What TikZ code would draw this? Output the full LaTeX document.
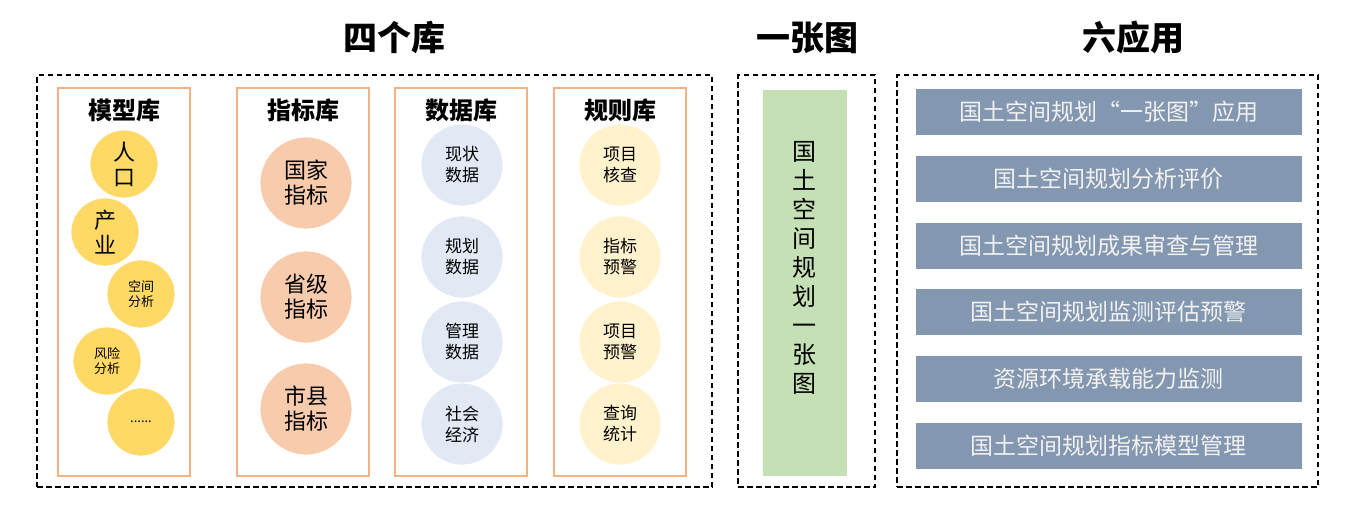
\documentclass[tikz,border=0pt]{standalone}
\usepackage{fontspec}
\setmainfont{Noto Sans CJK SC}
\usepackage{xcolor}
\usetikzlibrary{positioning}

\definecolor{chengbian}{HTML}{F4B183}
\definecolor{moxing}{HTML}{FFD966}
\definecolor{zhibiao}{HTML}{F8CBAD}
\definecolor{shuju}{HTML}{E2E9F5}
\definecolor{guize}{HTML}{FFF2CC}
\definecolor{yizhang}{HTML}{C5E0B4}
\definecolor{yingyong}{HTML}{8497B0}

\begin{document}
\begin{tikzpicture}[x=1pt, y=-1pt,
    xukuang/.style={draw=black, line width=1.3pt, dash pattern=on 5.5pt off 3.5pt,
                    minimum height=412pt, inner sep=0pt},
    kukuang/.style={draw=chengbian, line width=1.5pt, minimum width=132pt,
                    minimum height=388pt, inner sep=0pt},
    dabiaoti/.style={font=\fontsize{34}{38}\selectfont\bfseries},
    xiaobiaoti/.style={font=\fontsize{24}{28}\selectfont\bfseries},
    yuan/.style={circle, draw=white, line width=0.8pt, inner sep=0pt, align=center},
    tiao/.style={fill=yingyong, draw=white, line width=0.6pt, minimum width=387pt,
                 minimum height=47pt, text=white!95!black,
                 font=\fontsize{23}{26}\selectfont}]
                \useasboundingbox (0,0) rectangle (1351,515);

                % 1. 标题
                \node[dabiaoti] (sgk) at (394,38) {四个库};
                \node[dabiaoti] (yzt) at (807,38) {一张图};
                \node[dabiaoti] (lyy) at (1133,38) {六应用};

                % 2. 虚线框
                \node[xukuang, minimum width=675pt] (kuqu) at (374.5,281) {};
                \node[xukuang, minimum width=137pt] (tuqu) at (806.5,281) {};
                \node[xukuang, minimum width=421pt] (yongqu) at (1107.5,281) {};

                % 3. 四个库
                \foreach \n/\x/\t in {mxk/124/模型库, zbk/303/指标库, sjk/461/数据库, gzk/620/规则库} {
                    \node[kukuang] (\n) at (\x,282) {};
                    \node[xiaobiaoti] (\n t) at (\x,110) {\t};
                }
                \foreach \n/\x/\y/\t in {rk/124/164/{人\\口}, cy/105/232/{产\\业}} {
                    \node[yuan, fill=moxing, minimum size=68pt,
                          font=\fontsize{22}{25}\selectfont] (\n) at (\x,\y) {\t};
                }
                \foreach \n/\x/\y/\t in {kj/141/294/{空间\\分析}, fx/107/361/{风险\\分析}, qt/141/422/{......}} {
                    \node[yuan, fill=moxing, minimum size=68pt,
                          font=\fontsize{13}{15}\selectfont] (\n) at (\x,\y) {\t};
                }
                \foreach \n/\y/\t in {gj/183/{国家\\指标}, sj/297/{省级\\指标}, xj/409/{市县\\指标}} {
                    \node[yuan, fill=zhibiao, minimum size=92pt,
                          font=\fontsize{22}{25}\selectfont] (\n) at (306,\y) {\t};
                }
                \foreach \n/\y/\t in {xz/165/{现状\\数据}, gh/257/{规划\\数据}, gl/342/{管理\\数据}, sh/424/{社会\\经济}} {
                    \node[yuan, fill=shuju, minimum size=82pt,
                          font=\fontsize{17}{21}\selectfont] (\n) at (462,\y) {\t};
                }
                \foreach \n/\y/\t in {xmhc/165/{项目\\核查}, zbyj/257/{指标\\预警}, xmyj/342/{项目\\预警}, cxtj/424/{查询\\统计}} {
                    \node[yuan, fill=guize, minimum size=82pt,
                          font=\fontsize{17}{21}\selectfont] (\n) at (620,\y) {\t};
                }

                % 4. 一张图
                \node[fill=yizhang, draw=white, minimum width=85pt, minimum height=387pt,
                      inner sep=0pt] (tu) at (804.5,282.5) {};
                \node[align=center, font=\fontsize{24}{29}\selectfont] (tuwen) at (804.5,268)
                      {国\\土\\空\\间\\规\\划\\一\\张\\图};

                % 5. 六应用
                \foreach \i/\t in {1/国土空间规划“一张图”应用, 2/国土空间规划分析评价,
                                   3/国土空间规划成果审查与管理, 4/国土空间规划监测评估预警,
                                   5/资源环境承载能力监测, 6/国土空间规划指标模型管理} {
                    \node[tiao] (yy\i) at (1108.5,{112+(\i-1)*66.7}) {\t};
                }
            \end{tikzpicture}
\end{document}
